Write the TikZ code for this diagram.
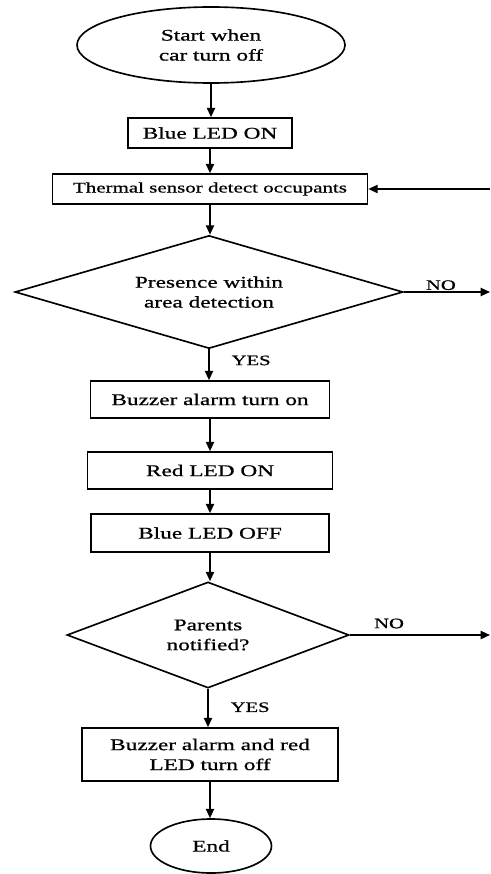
\documentclass[tikz,border=0pt]{standalone}
\usepackage{fontspec}
\setmainfont{Liberation Serif}[FakeStretch=1.43,FakeBold=0.8]
\usetikzlibrary{shapes.geometric,arrows.meta}

\begin{document}
\begin{tikzpicture}[x=0.03cm, y=-0.03cm,
    procbox/.style={rectangle, draw, line width=1.4pt, inner sep=0pt, align=center, font=\fontsize{13.9}{17}\selectfont},
    termnode/.style={ellipse, draw, line width=1.4pt, inner sep=0pt, align=center, font=\fontsize{13.9}{17}\selectfont},
    decision/.style={diamond, draw, line width=1.4pt, inner sep=0pt, align=center, font=\fontsize{13.9}{17}\selectfont},
    answer/.style={inner sep=1pt, font=\fontsize{12.3}{14}\selectfont},
    arrowline/.style={-{Triangle[length=8pt,width=7pt]}, line width=1.4pt}
  ]
    \useasboundingbox (0,0) rectangle (490,874);

    % Start and first steps
    \node (start) at (211,45) [termnode, minimum width=8.04cm, minimum height=2.28cm] {Start when\\car turn off};
    \node (blueon) at (210,133) [procbox, minimum width=4.92cm, minimum height=0.9cm] {Blue LED ON};
    \node (thermal) at (210,189) [procbox, minimum width=9.45cm, minimum height=0.9cm, font=\fontsize{12.5}{15}\selectfont] {Thermal sensor detect occupants};

    % First decision
    \node (presence) at (209,292) [decision, aspect=3.4, minimum width=11.64cm, minimum height=3.39cm] {Presence within\\area detection};
    \node (buzzer) at (210,399.5) [procbox, minimum width=7.17cm, minimum height=1.11cm] {Buzzer alarm turn on};
    \node (redon) at (210,470.5) [procbox, minimum width=7.35cm, minimum height=1.11cm] {Red LED ON};
    \node (blueoff) at (210,533) [procbox, minimum width=7.14cm, minimum height=1.14cm] {Blue LED OFF};

    % Second decision
    \node (parents) at (208,635) [decision, aspect=2.66, minimum width=8.46cm, minimum height=3.18cm] {Parents\\notified?};
    \node (alarmoff) at (210,754.5) [procbox, minimum width=7.68cm, minimum height=1.59cm] {Buzzer alarm and red\\LED turn off};
    \node (end) at (211,846) [termnode, minimum width=3.63cm, minimum height=1.62cm] {End};

    % Loose ends at the right edge
    \coordinate (loopin) at (490,189);
    \coordinate (noout1) at (490,292);
    \coordinate (noout2) at (490,635);

    % Connectors
    \draw[arrowline] (start) -- (start.south |- blueon.north);
    \draw[arrowline] (blueon) -- (thermal);
    \draw[arrowline] (loopin) -- (thermal.east);
    \draw[arrowline] (thermal) -- (thermal.south |- presence.north);
    \draw[arrowline] (presence.east) -- node[answer, pos=0.43, above] {NO} (noout1);
    \draw[arrowline] (presence.south) -- node[answer, pos=0.36, right=0.62cm] {YES} (presence.south |- buzzer.north);
    \draw[arrowline] (buzzer) -- (redon);
    \draw[arrowline] (redon) -- (blueoff);
    \draw[arrowline] (blueoff) -- (blueoff.south |- parents.north);
    \draw[arrowline] (parents.east) -- node[answer, pos=0.28, above=4pt] {NO} (noout2);
    \draw[arrowline] (parents.south) -- node[answer, pos=0.48, right=0.62cm] {YES} (parents.south |- alarmoff.north);
    \draw[arrowline] (alarmoff) -- (alarmoff.south |- end.north);
  \end{tikzpicture}
\end{document}
